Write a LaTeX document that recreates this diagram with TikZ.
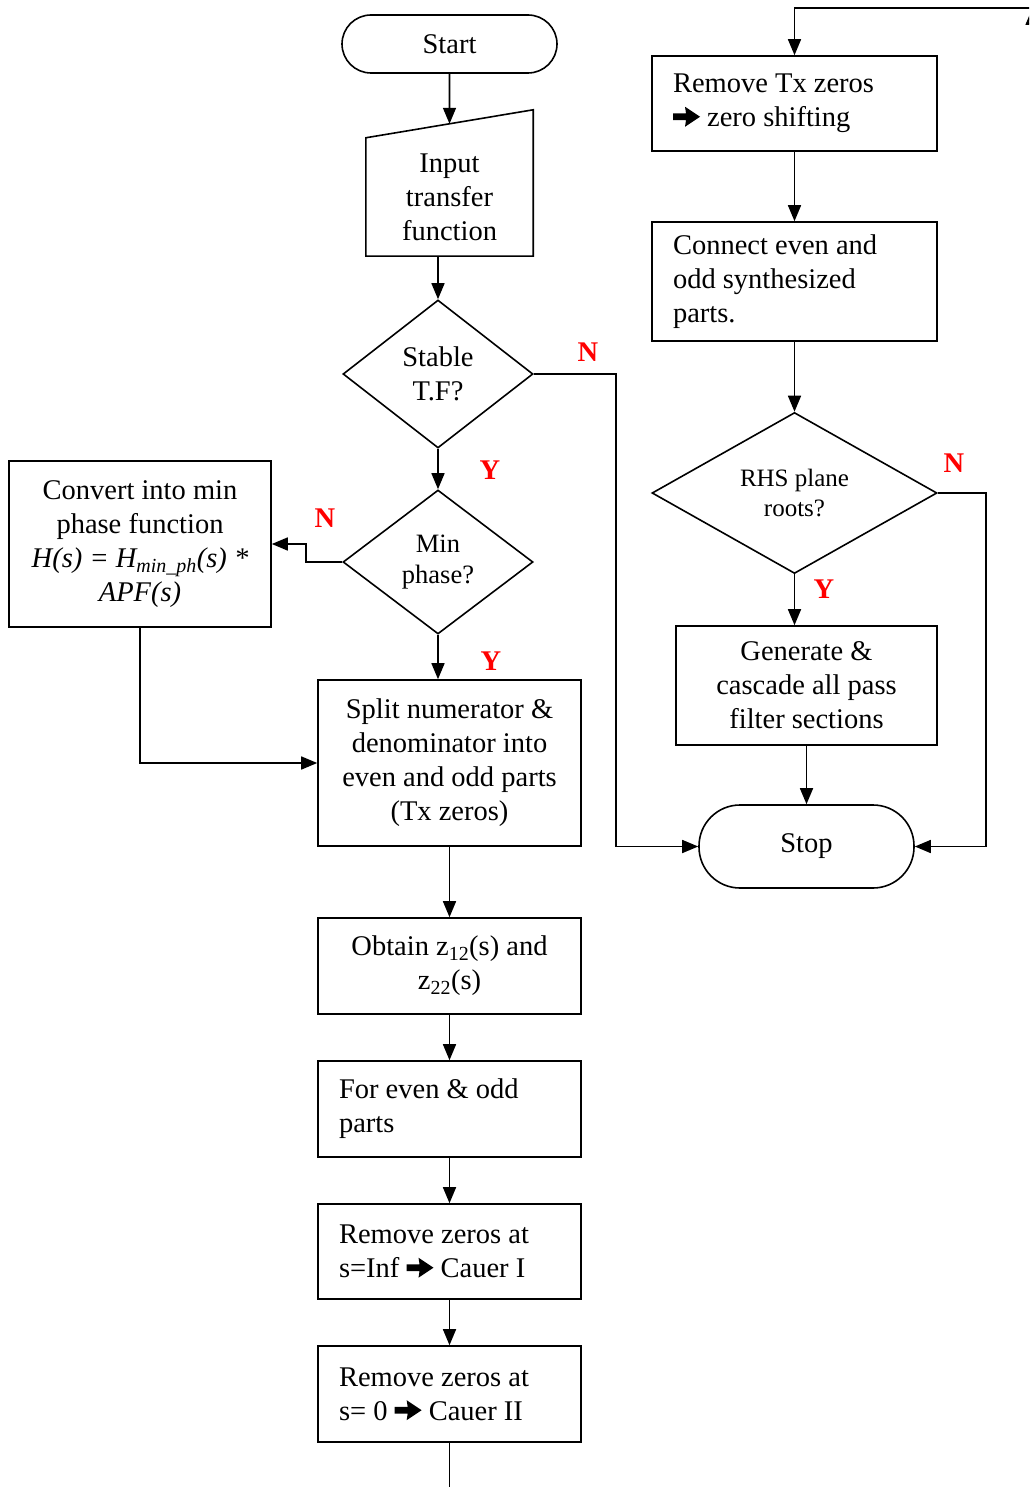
\documentclass[tikz,border=0pt]{standalone}
\usepackage{fontspec}
\setmainfont{Liberation Serif}
\usetikzlibrary{shapes.geometric,arrows.meta,calc}
\newcommand\mainfs{\fontsize{28.5}{34}\selectfont}
\newcommand\minfs{\fontsize{26.5}{31}\selectfont}
\newcommand\rhsfs{\fontsize{25}{30}\selectfont}
\newcommand\arrw{\tikz[baseline=0pt,x=1pt,y=1pt]\fill[black] (0,6.6) -- (13,6.6) -- (12,0) -- (27,10) -- (12,20) -- (13,13.4) -- (0,13.4) -- cycle;}
\begin{document}
\begin{tikzpicture}[x=1pt,y=-1pt,
  every node/.style={inner sep=0pt,font=\mainfs},
  box/.style={draw,line width=1.6pt,rectangle,align=center},
  lbox/.style={draw,line width=1.6pt,rectangle,align=flush left,inner xsep=21pt},
  term/.style={draw,line width=1.6pt,rectangle,rounded corners=#1,align=center},
  dec/.style={draw,line width=1.6pt,diamond,align=center},
  arr/.style={line width=1.6pt,-{Triangle[length=16pt,width=13pt]}},
  ln/.style={line width=1.6pt},
  yn/.style={text=red,font=\mainfs\bfseries}]
\useasboundingbox (0,0) rectangle (1029,1487);
\clip (0,0) rectangle (1029,1487);

% left column
\node[term=29pt,minimum width=215pt,minimum height=58pt] (start) at (449.5,44) {Start};
\node[align=center,minimum width=167pt,minimum height=118pt] (input) at (449.5,197) {Input\\transfer\\function};
\draw[ln] (input.south west) -- (input.south east) -- ([yshift=28pt]input.north east) -- (input.north west) -- cycle;
\coordinate (intop) at ($(input.north west)!0.5!([yshift=28pt]input.north east)$);
\node[dec,minimum width=190pt,minimum height=148pt] (stable) at (438,374) {Stable\\T.F?};
\node[dec,minimum width=190pt,minimum height=144pt,font=\minfs] (min) at (438,562) {Min\\phase?};
\node[box,minimum width=262pt,minimum height=166pt] (conv) at (140,544)
  {Convert into min\\phase function\\\textit{H(s) = H\textsubscript{min\_ph}(s) *}\\\textit{APF(s)}};
\node[box,minimum width=263pt,minimum height=166pt] (split) at (449.5,763)
  {Split numerator \&\\denominator into\\even and odd parts\\(Tx zeros)};
\node[box,minimum width=263pt,minimum height=96pt] (obtain) at (449.5,966)
  {Obtain z\textsubscript{12}(s) and\\z\textsubscript{22}(s)};
\node[lbox,text width=221pt,minimum height=96pt] (for) at (449.5,1109)
  {For even \& odd\\parts};
\node[lbox,text width=221pt,minimum height=95pt] (rinf) at (449.5,1251.5)
  {Remove zeros at\\s=Inf \arrw\ Cauer I};
\node[lbox,text width=221pt,minimum height=96pt] (rz0) at (449.5,1394)
  {Remove zeros at\\s= 0 \arrw\ Cauer II};

% right column
\node[lbox,text width=243pt,minimum height=95pt] (rtx) at (794.5,103.5)
  {Remove Tx zeros\\\arrw\ zero shifting};
\node[lbox,text width=243pt,minimum height=119pt] (conn) at (794.5,281.5)
  {Connect even and\\odd synthesized\\parts.};
\node[dec,minimum width=285pt,minimum height=161pt,font=\rhsfs] (rhs) at (794.5,493) {RHS plane\\roots?};
\node[box,minimum width=261pt,minimum height=119pt] (gen) at (806.5,685.5)
  {Generate \&\\cascade all pass\\filter sections};
\node[term=41pt,minimum width=215pt,minimum height=83pt] (stop) at (806.5,846.5) {Stop};

% labels
\node[yn] (n1) at (588,352) {N};
\node[yn] (y1) at (490,470) {Y};
\node[yn] (n2) at (325,518) {N};
\node[yn] (y2) at (491,661) {Y};
\node[yn] (n3) at (954,463) {N};
\node[yn] (y3) at (824,589) {Y};

% connectors
\draw[arr] (start.south) -- (intop);
\draw[arr] (stable.north |- input.south) -- (stable.north);
\draw[arr] (stable.south) -- (min.north);
\draw[arr] (stable.east) -- ++(82,0) |- (stop.west);
\draw[arr] (min.west) -- ++(-36,0) |- (conv.east);
\draw[arr] (conv.south) |- (split.west);
\draw[arr] (min.south) -- (min.south |- split.north);
\draw[arr] (split.south) -- (obtain.north);
\draw[arr] (obtain.south) -- (for.north);
\draw[arr] (for.south) -- (rinf.north);
\draw[arr] (rinf.south) -- (rz0.north);
\coordinate (bot) at (449.5,1490);
\draw[ln] (rz0.south) -- (bot);

\coordinate (tr) at (1035,8);
\draw[arr] (tr) -| (rtx.north);
\coordinate (up1) at (1032,80);
\coordinate (up2) at (1032,9);
\draw[arr] (up1) -- (up2);
\draw[arr] (rtx.south) -- (conn.north);
\draw[arr] (conn.south) -- (rhs.north);
\draw[arr] (rhs.east) -- ++(48,0) |- (stop.east);
\draw[arr] (rhs.south) -- (rhs.south |- gen.north);
\draw[arr] (gen.south) -- (stop.north);
\end{tikzpicture}
\end{document}
